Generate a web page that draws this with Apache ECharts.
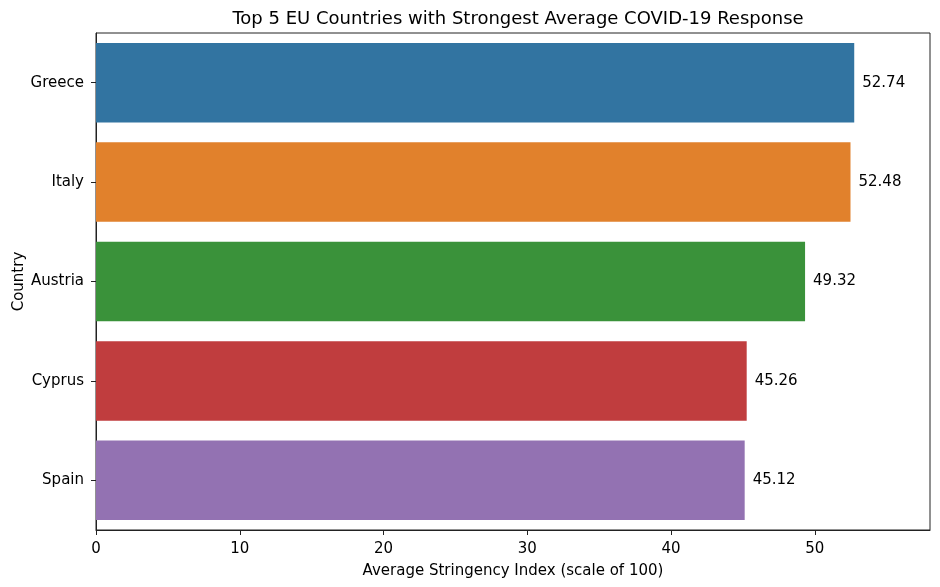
<!DOCTYPE html>
<html>
<head>
<meta charset="utf-8">
<script src="https://cdn.jsdelivr.net/npm/echarts@6/dist/echarts.min.js"></script>
<style>
html,body{margin:0;padding:0;background:#fff;}
#chart{width:940px;height:587px;}
</style>
</head>
<body>
<div id="chart"></div>
<script>
const countries = ["Greece", "Italy", "Austria", "Cyprus", "Spain"];
const stringency = [52.74, 52.48, 49.32, 45.26, 45.12];
const barColors = ["#3274a1", "#e1812c", "#3a923a", "#c03d3e", "#9372b2"];
const xTicks = [0, 10, 20, 30, 40, 50];

const font = "DejaVu Sans";
const chart = echarts.init(document.getElementById('chart'), null, {renderer: 'canvas'});
chart.setOption({
  animation: false,
  backgroundColor: '#fff',
  title: {
    text: 'Top 5 EU Countries with Strongest Average COVID-19 Response',
    left: 513, top: 5, textAlign: 'center',
    textStyle: {fontFamily: font, fontSize: 18, fontWeight: 'normal', color: '#000'}
  },
  grid: {left: 96, right: 10, top: 33, bottom: 57, show: true, borderColor: '#222', borderWidth: 1,
    backgroundColor: 'transparent', containLabel: false, outerBoundsMode: 'none'},
  xAxis: {
    type: 'value', min: 0, max: 58.01,
    name: 'Average Stringency Index (scale of 100)',
    nameLocation: 'middle', nameGap: 34,
    nameTextStyle: {fontFamily: font, fontSize: 15, color: '#000'},
    axisLine: {show: true, lineStyle: {color: '#222', width: 1}},
    axisTick: {show: true, length: 5, customValues: xTicks, lineStyle: {color: '#222'}},
    axisLabel: {fontFamily: font, fontSize: 15, color: '#000', margin: 12, customValues: xTicks},
    splitLine: {show: false}
  },
  yAxis: {
    type: 'category', data: countries, inverse: true,
    name: 'Country', nameLocation: 'middle', nameGap: 69, nameRotate: 90, nameMoveOverlap: false,
    nameTextStyle: {fontFamily: font, fontSize: 15, color: '#000'},
    axisLine: {show: true, lineStyle: {color: '#222', width: 1}},
    axisTick: {show: true, alignWithLabel: true, length: 5, lineStyle: {color: '#222'}},
    axisLabel: {fontFamily: font, fontSize: 15, color: '#000', margin: 12},
    splitLine: {show: false}
  },
  series: [{
    type: 'bar',
    barCategoryGap: '20%',
    data: stringency.map((v, i) => ({value: v, itemStyle: {color: barColors[i]}})),
    label: {
      show: true, position: 'right', distance: 8,
      fontFamily: font, fontSize: 15, color: '#000',
      formatter: p => p.value.toFixed(2)
    }
  }]
});
</script>
</body>
</html>
